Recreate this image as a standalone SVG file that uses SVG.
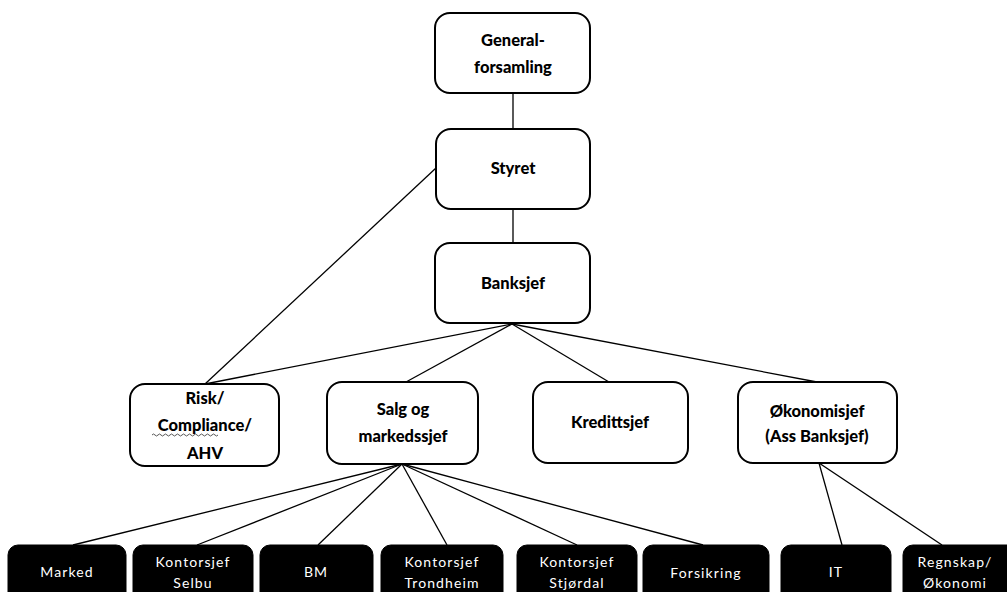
<svg xmlns="http://www.w3.org/2000/svg" width="1007" height="592" viewBox="0 0 1007 592">
<style>
.box{fill:#fff;stroke:#000;stroke-width:2}
.dark{fill:#000;stroke:#000;stroke-width:1}
.t{font-family:Lato,"Liberation Sans",sans-serif;font-weight:900;font-size:16.5px;fill:#000;text-anchor:middle;dominant-baseline:central}
.w{font-family:Lato,"Liberation Sans",sans-serif;font-size:14px;letter-spacing:1.1px;fill:#fff;text-anchor:middle;dominant-baseline:central}
.c{stroke:#000;stroke-width:1.3;fill:none}
</style>
<rect width="1007" height="592" fill="#fff"/>
<g id="connectors">
<line class="c" x1="513" y1="93" x2="513" y2="129"/>
<line class="c" x1="513" y1="209" x2="513" y2="243"/>
<line class="c" x1="436" y1="168" x2="205" y2="384"/>
<line class="c" x1="512" y1="324" x2="205" y2="384"/>
<line class="c" x1="512" y1="324" x2="406" y2="382"/>
<line class="c" x1="512" y1="324" x2="609" y2="382"/>
<line class="c" x1="512" y1="324" x2="817" y2="382"/>
<line class="c" x1="402" y1="464" x2="73" y2="545"/>
<line class="c" x1="402" y1="464" x2="197" y2="545"/>
<line class="c" x1="402" y1="464" x2="318" y2="545"/>
<line class="c" x1="402" y1="464" x2="447" y2="545"/>
<line class="c" x1="402" y1="464" x2="577" y2="545"/>
<line class="c" x1="402" y1="464" x2="703" y2="545"/>
<line class="c" x1="819" y1="463" x2="842" y2="545"/>
<line class="c" x1="819" y1="463" x2="942" y2="545"/>
</g>
<g id="generalforsamling">
<rect class="box" x="435" y="13" width="155" height="80" rx="15"/>
<text class="t" x="513" y="40">General-</text>
<text class="t" x="513" y="67">forsamling</text>
</g>
<g id="styret">
<rect class="box" x="436" y="129" width="154" height="80" rx="15"/>
<text class="t" x="513" y="168">Styret</text>
</g>
<g id="banksjef">
<rect class="box" x="435" y="243" width="155" height="80" rx="15"/>
<text class="t" x="513" y="283">Banksjef</text>
</g>
<g id="risk">
<rect class="box" x="130" y="384" width="149" height="82" rx="15"/>
<text class="t" x="205" y="398">Risk/</text>
<text class="t" x="205" y="425">Compliance/</text>
<text class="t" x="205" y="453">AHV</text>
<path d="M152 435 q1.5 -2 3 0 t3 0 t3 0 t3 0 t3 0 t3 0 t3 0 t3 0 t3 0 t3 0 t3 0 t3 0 t3 0 t3 0 t3 0 t3 0 t3 0 t3 0 t3 0 t3 0 t3 0 t3 0" fill="none" stroke="#444" stroke-width="0.9"/>
</g>
<g id="salg">
<rect class="box" x="327" y="382" width="151" height="82" rx="15"/>
<text class="t" x="403" y="409">Salg og</text>
<text class="t" x="403" y="436">markedssjef</text>
</g>
<g id="kredittsjef">
<rect class="box" x="533" y="382" width="155" height="81" rx="15"/>
<text class="t" x="610" y="422">Kredittsjef</text>
</g>
<g id="okonomisjef">
<rect class="box" x="738" y="382" width="159" height="81" rx="15"/>
<text class="t" x="817" y="411">Økonomisjef</text>
<text class="t" x="817" y="436">(Ass Banksjef)</text>
</g>
<g id="marked">
<rect class="dark" x="8" y="545" width="118" height="60" rx="10"/>
<text class="w" x="67" y="571">Marked</text>
</g>
<g id="selbu">
<rect class="dark" x="133" y="545" width="120" height="60" rx="10"/>
<text class="w" x="193" y="561">Kontorsjef</text>
<text class="w" x="193" y="582">Selbu</text>
</g>
<g id="bm">
<rect class="dark" x="260" y="545" width="113" height="60" rx="10"/>
<text class="w" x="316" y="571">BM</text>
</g>
<g id="trondheim">
<rect class="dark" x="381" y="545" width="122" height="60" rx="10"/>
<text class="w" x="442" y="561">Kontorsjef</text>
<text class="w" x="442" y="582">Trondheim</text>
</g>
<g id="stjordal">
<rect class="dark" x="517" y="545" width="120" height="60" rx="10"/>
<text class="w" x="577" y="561">Kontorsjef</text>
<text class="w" x="577" y="582">Stjørdal</text>
</g>
<g id="forsikring">
<rect class="dark" x="643" y="545" width="126" height="60" rx="10"/>
<text class="w" x="706" y="572">Forsikring</text>
</g>
<g id="it">
<rect class="dark" x="781" y="545" width="110" height="60" rx="10"/>
<text class="w" x="836" y="571">IT</text>
</g>
<g id="regnskap">
<rect class="dark" x="903" y="545" width="115" height="60" rx="10"/>
<text class="w" x="955" y="561">Regnskap/</text>
<text class="w" x="955" y="582">Økonomi</text>
</g>
</svg>
